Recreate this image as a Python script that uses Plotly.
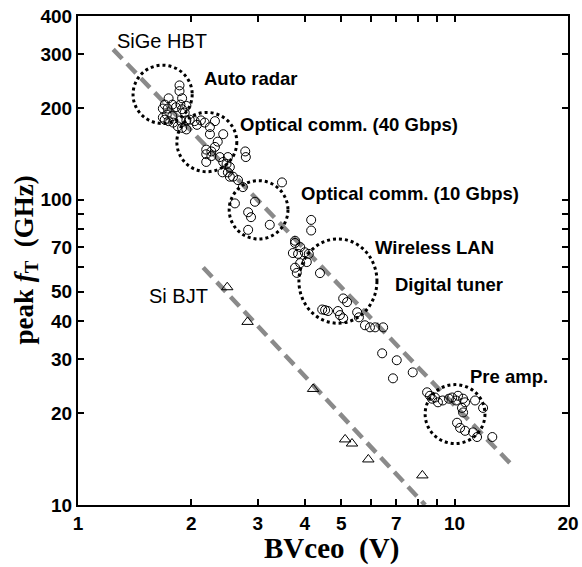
import math
import plotly.graph_objects as go

# SiGe HBT devices: breakdown voltage BVceo (V) and peak fT (GHz)
sige_bv = [
    # auto radar group
    1.86, 1.86, 1.74, 1.89, 1.70, 1.78, 1.87, 1.94, 1.68, 1.73, 1.82, 1.89,
    1.72, 1.78, 1.92, 1.70, 1.74, 1.79, 1.87, 1.94, 1.98, 2.04, 1.89, 1.94,
    1.84, 1.68, 2.07, 2.12, 2.24, 2.31,
    # optical 40 Gbps group
    2.17, 2.24, 2.43, 2.35, 2.31, 2.19, 2.26, 2.19, 2.26, 2.38, 2.43, 2.48,
    2.50, 2.78, 2.79, 2.19, 2.50, 2.58, 2.53, 2.66, 2.74,
    # optical 10 Gbps group
    2.42, 2.53, 2.95, 2.61, 2.83, 2.88, 2.83, 3.23, 3.48, 4.16, 4.16, 3.77,
    # wireless LAN / digital tuner group
    3.77, 3.89, 3.72, 3.84, 4.00, 4.10, 4.05, 3.89, 3.77, 3.81, 4.39, 5.06,
    5.18, 4.45, 4.53, 4.61, 4.90, 4.96, 5.06, 5.51, 5.57, 5.78, 5.96, 6.15,
    6.46, 6.42, 7.02, 7.74, 6.86,
    # pre-amp group
    8.45, 8.71, 8.87, 9.03, 9.66, 9.85, 10.09, 10.21, 10.53, 10.66, 10.46,
    10.53, 11.33, 11.90, 10.15, 10.34, 10.66, 11.19, 11.47, 12.59, 8.60, 9.30,
]
sige_ft = [
    237, 227, 215, 215, 205, 205, 205, 203, 199, 199, 201, 198,
    190, 188, 193, 183, 181, 179, 182, 182, 183, 181, 172, 170,
    174, 186, 176, 182, 173, 181,
    179, 164, 164, 155, 149, 146, 144, 141, 139, 138, 133, 131,
    138, 144, 138, 133, 123, 119, 128, 116, 110,
    123, 119, 98.5, 97.3, 91.0, 87.7, 79.7, 82.8, 114, 85.9, 79.3, 73.4,
    72.2, 70.0, 66.9, 66.5, 67.3, 66.5, 62.5, 62.0, 59.9, 57.6, 57.5, 47.5,
    46.2, 43.7, 43.5, 43.2, 43.2, 41.9, 40.9, 42.8, 41.2, 38.8, 38.2, 38.2,
    38.2, 31.4, 29.8, 27.2, 26.0,
    23.4, 22.3, 22.5, 21.7, 22.3, 22.5, 22.0, 22.8, 22.3, 21.7, 20.8,
    20.1, 22.0, 20.8, 18.6, 17.9, 17.5, 17.3, 16.7, 16.7, 22.8, 22.0,
]

# Si BJT devices
bjt_bv = [2.49, 2.82, 4.21, 5.12, 5.34, 5.90, 8.21]
bjt_ft = [51.7, 39.8, 24.0, 16.4, 15.9, 14.1, 12.5]

# trend lines (end points)
sige_fit_bv = [1.24, 14.2]
sige_fit_ft = [311, 13.5]
bjt_fit_bv = [2.15, 8.35]
bjt_fit_ft = [60, 10]

# application regions: (BV min, BV max, fT min, fT max)
regions = [
    (1.40, 2.01, 177.8, 276.0),   # auto radar
    (1.83, 2.64, 123.6, 193.3),   # optical 40 Gbps
    (2.52, 3.61, 74.4, 115.5),    # optical 10 Gbps
    (3.86, 6.22, 39.4, 74.4),     # wireless LAN / digital tuner
    (8.35, 12.04, 15.9, 24.8),    # pre amp
]

# labelled ticks and unlabelled minor ticks
x_tickvals = [1, 2, 3, 4, 5, 7, 10, 20]
x_minorvals = [6, 8, 9]
y_tickvals = [10, 20, 30, 40, 50, 70, 100, 200, 300, 400]
y_minorvals = [60, 80, 90]

sans = "Liberation Sans, Arial, sans-serif"
serif = "Liberation Serif, Times New Roman, serif"
trend_style = dict(color="#8a8a8a", width=4.5, dash="13px,7px")

fig = go.Figure()
fig.add_trace(go.Scatter(x=sige_fit_bv, y=sige_fit_ft, mode="lines",
                         line=trend_style, hoverinfo="skip"))
fig.add_trace(go.Scatter(x=bjt_fit_bv, y=bjt_fit_ft, mode="lines",
                         line=trend_style, hoverinfo="skip"))
fig.add_trace(go.Scatter(x=sige_bv, y=sige_ft, mode="markers",
                         marker=dict(symbol="circle-open", size=9,
                                     color="black", line=dict(width=1))))
fig.add_trace(go.Scatter(x=bjt_bv, y=bjt_ft, mode="markers",
                         marker=dict(symbol="triangle-up-open", size=10,
                                     color="black", line=dict(width=1))))

for bv0, bv1, ft0, ft1 in regions:
    fig.add_shape(type="circle", xref="x", yref="y",
                  x0=bv0, x1=bv1, y0=ft0, y1=ft1,
                  line=dict(color="black", width=3, dash="dot"))

labels = [
    ("SiGe HBT", 0.0755, 0.949, False, 20),
    ("Auto radar", 0.2531, 0.873, True, 18.5),
    ("Optical comm. (40 Gbps)", 0.3265, 0.779, True, 18.5),
    ("Optical comm. (10 Gbps)", 0.4510, 0.638, True, 18.5),
    ("Wireless LAN", 0.6020, 0.5256, True, 18.5),
    ("Digital tuner", 0.6429, 0.4519, True, 18.5),
    ("Pre amp.", 0.7959, 0.2638, True, 18.5),
    ("Si BJT", 0.1408, 0.4274, False, 20),
]
for text, xp, yp, bold, size in labels:
    fig.add_annotation(x=xp, y=yp, xref="paper", yref="paper", text=text,
                       showarrow=False, xanchor="left", yanchor="middle",
                       font=dict(family=sans, size=size, color="black",
                                 weight=700 if bold else 400))

fig.add_annotation(x=0.518, y=-0.088, xref="paper", yref="paper",
                   text="BVceo\u00a0\u00a0(V)", showarrow=False,
                   xanchor="center", yanchor="middle",
                   font=dict(family=serif, size=29, color="black", weight=700))
fig.add_annotation(x=-0.108, y=0.50, xref="paper", yref="paper",
                   text="peak <i>f</i><sub>T</sub>\u00a0\u00a0(GHz)", showarrow=False,
                   textangle=-90, xanchor="center", yanchor="middle",
                   font=dict(family=serif, size=27, color="black", weight=700))

tick_style = dict(ticks="inside", ticklen=6, tickwidth=1.5, tickcolor="black")
axis_common = dict(showgrid=False, zeroline=False, showline=True,
                   linecolor="black", linewidth=2, mirror="ticks",
                   automargin=False, **tick_style,
                   tickfont=dict(family=sans, size=19, color="black", weight=700))

fig.update_xaxes(type="log", range=[0, math.log10(20)],
                 tickmode="array", tickvals=x_tickvals,
                 ticktext=[str(v) for v in x_tickvals],
                 minor=dict(tickmode="array", tickvals=x_minorvals, showgrid=False,
                            **tick_style),
                 **axis_common)
fig.update_yaxes(type="log", range=[1, math.log10(400)],
                 tickmode="array", tickvals=y_tickvals,
                 ticktext=[str(v) for v in y_tickvals],
                 minor=dict(tickmode="array", tickvals=y_minorvals, showgrid=False,
                            **tick_style),
                 **axis_common)

fig.update_layout(width=582, height=567, showlegend=False,
                  margin=dict(l=78, r=14, t=16, b=62, autoexpand=False),
                  plot_bgcolor="white", paper_bgcolor="white")

fig.write_html("out.html")
